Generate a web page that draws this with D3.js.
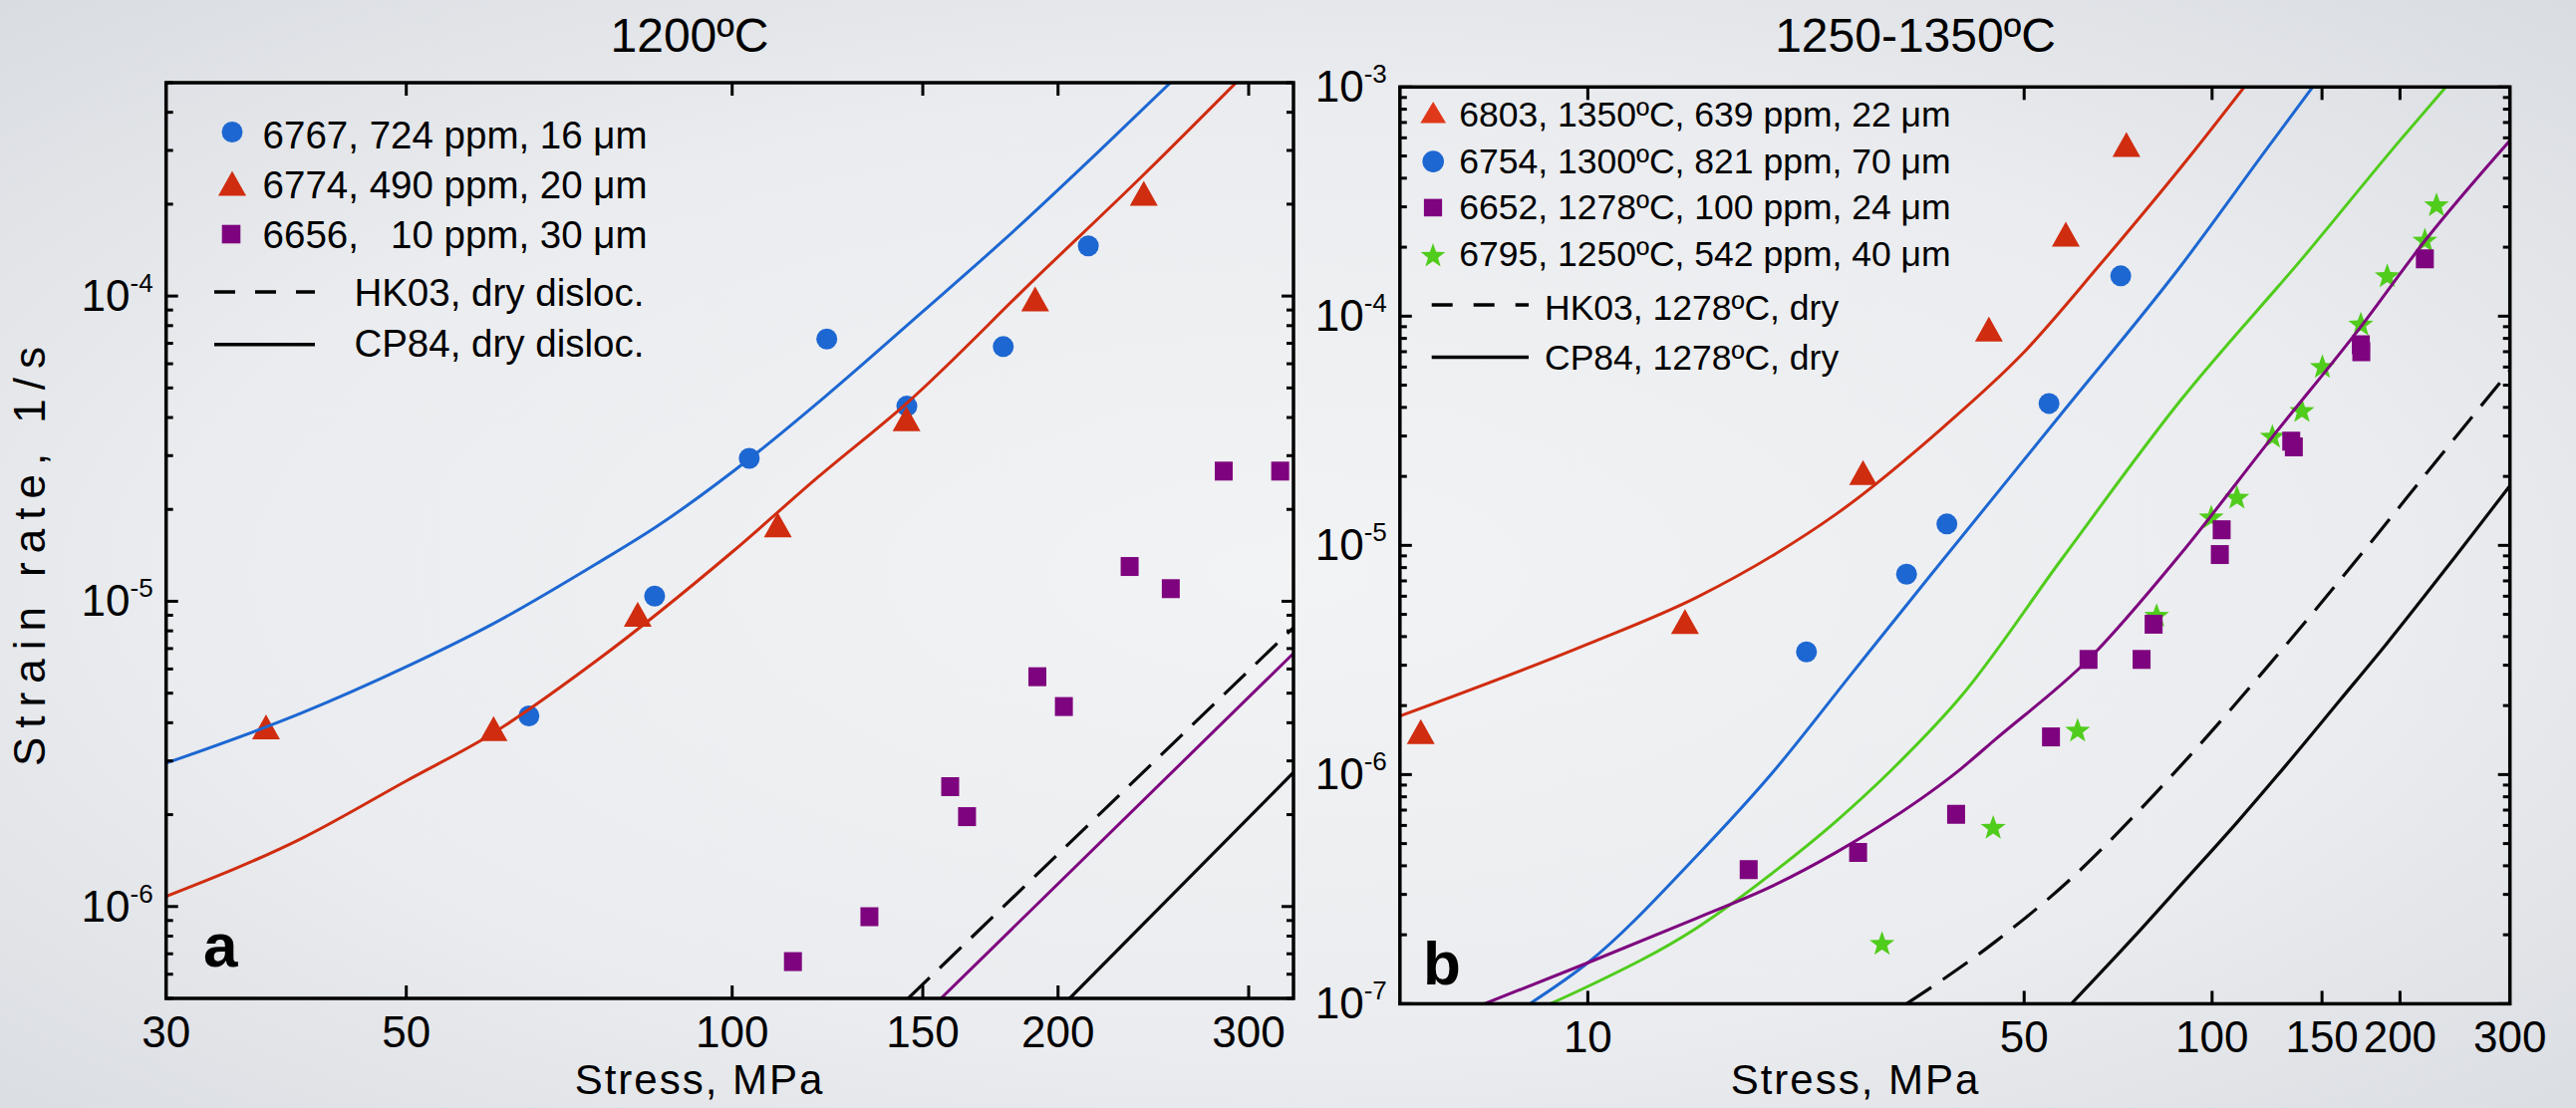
<!DOCTYPE html>
<html>
<head>
<meta charset="utf-8">
<script src="https://cdn.jsdelivr.net/npm/d3@7"></script>
<style>
  html, body { margin: 0; padding: 0; }
  body { width: 2585px; height: 1112px; overflow: hidden; }
  svg { display: block; font-family: "Liberation Sans", Arial, Helvetica, sans-serif; }
  text { white-space: pre; }
</style>
</head>
<body>
<svg id="fig" width="2585" height="1112"></svg>
<script>
// ---------------- Panel a: 1200ºC ----------------
// measured points, [stress MPa, strain rate 1/s]
const a6767 = [[64.9, 4.21e-6], [84.8, 1.04e-5], [103.7, 2.94e-5], [122.3, 7.23e-5], [145.0, 4.36e-5], [178.0, 6.83e-5], [213.3, 1.46e-4]];
const a6774 = [[37.1, 3.88e-6], [60.2, 3.83e-6], [81.8, 9.06e-6], [110.2, 1.78e-5], [144.9, 3.96e-5], [190.5, 9.78e-5], [240.0, 2.17e-4]];
const a6656 = [[113.8, 6.60e-7], [133.9, 9.26e-7], [159.0, 2.47e-6], [164.8, 1.97e-6], [191.4, 5.66e-6], [202.5, 4.52e-6], [232.9, 1.30e-5], [254.2, 1.10e-5], [284.5, 2.67e-5], [320.8, 2.67e-5]];
// flow-law curves
const aFit6767 = [[30, 2.95e-6], [40, 4.3e-6], [50, 6.1e-6], [60, 8.4e-6], [75, 1.33e-5], [85, 1.75e-5], [104, 2.95e-5], [122, 4.7e-5], [150, 8.9e-5], [178, 1.52e-4], [219, 3.02e-4], [254, 5e-4]];
const aFit6774 = [[30, 1.08e-6], [40, 1.67e-6], [50, 2.58e-6], [60, 3.68e-6], [75, 6.4e-6], [100, 1.45e-5], [120, 2.55e-5], [145, 4.46e-5], [190, 1.13e-4], [240, 2.5e-4], [292, 5e-4]];
const aFit6656 = [[155.9, 5e-7], [330, 6.75e-6]];
const aHK03 = [[145.4, 5e-7], [330, 8.2e-6]];
const aCP84 = [[205, 5e-7], [330, 2.75e-6]];

// ---------------- Panel b: 1250-1350ºC ----------------
const b6803 = [[5.40, 1.54e-6], [14.31, 4.65e-6], [27.6, 2.08e-5], [43.9, 8.79e-5], [58.3, 2.28e-4], [72.9, 5.61e-4]];
const b6754 = [[22.4, 3.43e-6], [32.4, 7.49e-6], [37.6, 1.24e-5], [54.8, 4.16e-5], [71.4, 1.50e-4]];
const b6652 = [[18.1, 3.85e-7], [27.1, 4.58e-7], [38.9, 6.71e-7], [55.2, 1.46e-6], [63.4, 3.18e-6], [77.1, 3.18e-6], [80.6, 4.53e-6], [102.9, 9.12e-6], [103.6, 1.17e-5], [133.9, 2.85e-5], [135.2, 2.69e-5], [173.1, 7.5e-5], [173.4, 7.0e-5], [219.2, 1.78e-4]];
const b6795 = [[29.6, 1.82e-7], [44.6, 5.84e-7], [60.9, 1.55e-6], [81.5, 4.91e-6], [99.7, 1.32e-5], [109.6, 1.61e-5], [124.9, 2.97e-5], [139.3, 3.84e-5], [150.2, 5.98e-5], [173.1, 9.17e-5], [190.8, 1.49e-4], [219.2, 2.13e-4], [228.8, 3.04e-4]];
const bFit6803 = [[5, 1.8e-6], [10, 3.71e-6], [14.93, 5.93e-6], [19.88, 9.11e-6], [25, 1.37e-5], [37.2, 3.3e-5], [49.6, 6.82e-5], [66.4, 1.7e-4], [94, 5.34e-4], [112.6, 1e-3]];
const bFit6754 = [[8.07, 1e-7], [10, 1.51e-7], [14.93, 4.41e-7], [19.88, 1.04e-6], [26.5, 2.77e-6], [35.3, 7.34e-6], [57.4, 3.76e-5], [88.7, 1.63e-4], [122.2, 5.34e-4], [144.9, 1e-3]];
const bFit6795 = [[8.71, 1e-7], [10, 1.19e-7], [14.93, 2.14e-7], [19.88, 3.77e-7], [25, 6.27e-7], [30.57, 1.04e-6], [39.6, 2.19e-6], [57.4, 8.7e-6], [88.7, 4.24e-5], [141, 1.85e-4], [200, 5.85e-4], [236.9, 1e-3]];
const bFit6652 = [[6.83, 1e-7], [10, 1.51e-7], [14.93, 2.36e-7], [19.88, 3.29e-7], [25, 4.58e-7], [30.57, 6.39e-7], [39.6, 1.06e-6], [44.9, 1.42e-6], [63.4, 3.18e-6], [88.7, 9.05e-6], [124.9, 2.97e-5], [173.1, 9.0e-5], [219.2, 2.13e-4], [300, 5.84e-4]];
const bHK03 = [[32.4, 1e-7], [45, 1.87e-7], [60, 3.6e-7], [75, 6.6e-7], [91.4, 1.18e-6], [124, 3.06e-6], [183.6, 1.11e-5], [221.6, 2.1e-5], [300, 5.8e-5]];
const bCP84 = [[59.5, 1e-7], [75, 1.96e-7], [90, 3.4e-7], [110, 6.25e-7], [131.4, 1.1e-6], [160, 2.1e-6], [190, 3.7e-6], [245, 8.9e-6], [300, 1.82e-5]];

// axis ticks and labels
const aXTicks = [50, 100, 150, 200, 300];
const aXLabels = [30, 50, 100, 150, 200, 300];
const aYExp = [-4, -5, -6];
const bXTicks = [10, 50, 100, 150, 200];
const bXLabels = [10, 50, 100, 150, 200, 300];
const bYExp = [-3, -4, -5, -6, -7];

const aLegendText = ["6767, 724 ppm, 16 μm", "6774, 490 ppm, 20 μm", "6656,   10 ppm, 30 μm", "HK03, dry disloc.", "CP84, dry disloc."];
const bLegendText = ["6803, 1350ºC, 639 ppm, 22 μm", "6754, 1300ºC, 821 ppm, 70 μm", "6652, 1278ºC, 100 ppm, 24 μm", "6795, 1250ºC, 542 ppm, 40 μm", "HK03, 1278ºC, dry", "CP84, 1278ºC, dry"];

const COL = { blue: "#1d67d2", red: "#d02c0f", purple: "#7e037e", green: "#50cc1c", black: "#0a0a0a" };

// ---------------- drawing ----------------
const W = 2585, H = 1112;
const svg = d3.select("#fig");
const defs = svg.append("defs");
const bg = defs.append("radialGradient").attr("id", "bg").attr("cx", "50%").attr("cy", "52%").attr("r", "72%");
bg.append("stop").attr("offset", "0%").attr("stop-color", "#f2f3f5");
bg.append("stop").attr("offset", "60%").attr("stop-color", "#eaecef");
bg.append("stop").attr("offset", "100%").attr("stop-color", "#d9dce1");
svg.append("rect").attr("width", W).attr("height", H).attr("fill", "url(#bg)");

function starPath(R, r) {
  const pts = [];
  for (let i = 0; i < 10; i++) {
    const ang = -Math.PI / 2 + i * Math.PI / 5;
    const rad = i % 2 === 0 ? R : r;
    pts.push([rad * Math.cos(ang), rad * Math.sin(ang)]);
  }
  return "M" + pts.map(p => p[0].toFixed(2) + "," + p[1].toFixed(2)).join("L") + "Z";
}
const shapes = {
  circle: s => `M${-s},0A${s},${s} 0 1,0 ${s},0A${s},${s} 0 1,0 ${-s},0Z`,
  tri: (w, h) => `M0,${-h / 2}L${w / 2},${h / 2}L${-w / 2},${h / 2}Z`,
  sq: (w, h) => `M${-w / 2},${-h / 2}h${w}v${h}h${-w}Z`,
  star: (R, r) => starPath(R, r)
};
const markerPath = {
  circle: shapes.circle(10.5),
  tri: shapes.tri(28, 25),
  sq: shapes.sq(18, 19),
  star: shapes.star(13.2, 5.4)
};

function panel(cfg) {
  const x = d3.scaleLog().domain(cfg.xDomain).range([cfg.left, cfg.right]);
  const y = d3.scaleLog().domain(cfg.yDomain).range([cfg.bottom, cfg.top]);
  const g = svg.append("g");
  const clipId = "clip-" + cfg.id;
  defs.append("clipPath").attr("id", clipId).append("rect")
    .attr("x", cfg.left).attr("y", cfg.top)
    .attr("width", cfg.right - cfg.left).attr("height", cfg.bottom - cfg.top);
  const plot = g.append("g").attr("clip-path", `url(#${clipId})`);

  // markers
  cfg.points.forEach(s => {
    plot.append("g").selectAll("path").data(s.data).join("path")
      .attr("d", markerPath[s.shape])
      .attr("transform", d => `translate(${x(d[0])},${y(d[1])})`)
      .attr("fill", s.color);
  });

  // lines
  const line = d3.line().x(d => x(d[0])).y(d => y(d[1])).curve(d3.curveMonotoneX);
  cfg.lines.forEach(l => {
    plot.append("path").datum(l.data).attr("d", line)
      .attr("fill", "none").attr("stroke", l.color)
      .attr("stroke-width", l.width || 3)
      .attr("stroke-dasharray", l.dash || null)
      .attr("stroke-linecap", "butt");
  });

  // ticks (inward on all sides)
  const tk = g.append("g").attr("stroke", "#000").attr("stroke-width", 3);
  cfg.xTicks.forEach(v => {
    tk.append("line").attr("x1", x(v)).attr("x2", x(v)).attr("y1", cfg.bottom).attr("y2", cfg.bottom - 13);
    tk.append("line").attr("x1", x(v)).attr("x2", x(v)).attr("y1", cfg.top).attr("y2", cfg.top + 13);
  });
  const [y0, y1] = cfg.yDomain;
  const e0 = Math.floor(Math.log10(y0)), e1 = Math.ceil(Math.log10(y1));
  for (let e = e0; e <= e1; e++) {
    for (let m = 1; m <= 9; m++) {
      const v = m * Math.pow(10, e);
      if (v < y0 * 0.999 || v > y1 * 1.001) continue;
      const len = m === 1 ? 12 : 7;
      tk.append("line").attr("x1", cfg.left).attr("x2", cfg.left + len).attr("y1", y(v)).attr("y2", y(v));
      tk.append("line").attr("x1", cfg.right).attr("x2", cfg.right - len).attr("y1", y(v)).attr("y2", y(v));
    }
  }

  // frame
  g.append("rect").attr("x", cfg.left).attr("y", cfg.top)
    .attr("width", cfg.right - cfg.left).attr("height", cfg.bottom - cfg.top)
    .attr("fill", "none").attr("stroke", "#000").attr("stroke-width", 3.5);

  // x tick labels
  g.append("g").selectAll("text").data(cfg.xLabels).join("text")
    .attr("x", d => x(d)).attr("y", cfg.bottom + 49)
    .attr("text-anchor", "middle").attr("font-size", 44).attr("fill", "#000")
    .text(d => d);

  // y tick labels: 10 with superscript exponent
  cfg.yExp.forEach(e => {
    const t = g.append("text").attr("x", cfg.left - 13).attr("y", y(Math.pow(10, e)) + 15)
      .attr("text-anchor", "end").attr("fill", "#000");
    t.append("tspan").attr("font-size", 44).text("10");
    t.append("tspan").attr("font-size", 26).attr("dy", -19).text(String(e));
  });

  // axis title and panel title
  g.append("text").attr("x", cfg.xTitleX).attr("y", 1098).attr("text-anchor", "middle")
    .attr("font-size", 42).attr("letter-spacing", 2).text("Stress, MPa");
  g.append("text").attr("x", cfg.titleX).attr("y", 52).attr("text-anchor", "middle")
    .attr("font-size", 48).text(cfg.title);

  // panel letter
  g.append("text").attr("x", cfg.letterX).attr("y", cfg.letterY)
    .attr("font-size", 62).attr("font-weight", "bold").text(cfg.letter);

  // legend
  const lg = g.append("g");
  cfg.legend.forEach(it => {
    if (it.shape) {
      lg.append("path").attr("d", it.path || markerPath[it.shape])
        .attr("transform", `translate(${it.mx},${it.my})`).attr("fill", it.color);
    } else {
      lg.append("line").attr("x1", it.x1).attr("x2", it.x2).attr("y1", it.ly).attr("y2", it.ly)
        .attr("stroke", "#000").attr("stroke-width", 3.5).attr("stroke-dasharray", it.dash || null);
    }
    lg.append("text").attr("x", it.tx).attr("y", it.ty).attr("font-size", cfg.legendSize).text(it.text);
  });
  return { x, y };
}

panel({
  id: "a", left: 166.7, right: 1298, top: 83, bottom: 1002,
  xDomain: [30, 330], yDomain: [5e-7, 5e-4],
  xTicks: aXTicks, xLabels: aXLabels, yExp: aYExp,
  title: "1200ºC", titleX: 692, xTitleX: 702,
  letter: "a", letterX: 204, letterY: 970,
  points: [
    { data: a6767, shape: "circle", color: COL.blue },
    { data: a6774, shape: "tri", color: COL.red },
    { data: a6656, shape: "sq", color: COL.purple }
  ],
  lines: [
    { data: aFit6767, color: COL.blue, width: 3 },
    { data: aFit6774, color: COL.red, width: 3 },
    { data: aFit6656, color: COL.purple, width: 3 },
    { data: aHK03, color: COL.black, width: 3.2, dash: "30,14" },
    { data: aCP84, color: COL.black, width: 3.2 }
  ],
  legendSize: 38.5,
  legend: [
    { shape: "circle", color: COL.blue, mx: 233, my: 132.5, tx: 263.6, ty: 148.6, text: aLegendText[0] },
    { shape: "tri", color: COL.red, mx: 233, my: 184, tx: 263.6, ty: 198.6, text: aLegendText[1] },
    { shape: "sq", path: shapes.sq(18.6, 18.6), color: COL.purple, mx: 232, my: 235, tx: 263.6, ty: 248.6, text: aLegendText[2] },
    { x1: 215, x2: 316, ly: 293, dash: "21,20", tx: 355.4, ty: 306.8, text: aLegendText[3] },
    { x1: 215, x2: 316, ly: 345.7, tx: 355.4, ty: 357.5, text: aLegendText[4] }
  ]
});

panel({
  id: "b", left: 1404.8, right: 2518.7, top: 87.3, bottom: 1007.4,
  xDomain: [5, 300], yDomain: [1e-7, 1e-3],
  xTicks: bXTicks, xLabels: bXLabels, yExp: bYExp,
  title: "1250-1350ºC", titleX: 1922, xTitleX: 1862,
  letter: "b", letterX: 1428, letterY: 988,
  points: [
    { data: b6795, shape: "star", color: COL.green },
    { data: b6652, shape: "sq", color: COL.purple },
    { data: b6754, shape: "circle", color: COL.blue },
    { data: b6803, shape: "tri", color: COL.red }
  ],
  lines: [
    { data: bFit6803, color: COL.red, width: 3 },
    { data: bFit6754, color: COL.blue, width: 3 },
    { data: bFit6795, color: COL.green, width: 3 },
    { data: bFit6652, color: COL.purple, width: 3 },
    { data: bHK03, color: COL.black, width: 3.2, dash: "30,14" },
    { data: bCP84, color: COL.black, width: 3.2 }
  ],
  legendSize: 35.5,
  legend: [
    { shape: "tri", path: shapes.tri(25.7, 21.5), color: "#e0381a", mx: 1438.2, my: 112.7, tx: 1464.3, ty: 126.5, text: bLegendText[0] },
    { shape: "circle", path: shapes.circle(10.8), color: COL.blue, mx: 1438.2, my: 162.1, tx: 1464.3, ty: 174, text: bLegendText[1] },
    { shape: "sq", path: shapes.sq(18.2, 17.6), color: COL.purple, mx: 1438, my: 208.4, tx: 1464.3, ty: 220.3, text: bLegendText[2] },
    { shape: "star", path: shapes.star(13, 5.3), color: COL.green, mx: 1438, my: 257, tx: 1464.3, ty: 266.9, text: bLegendText[3] },
    { x1: 1436.7, x2: 1534, ly: 306, dash: "21,21", tx: 1550, ty: 321, text: bLegendText[4] },
    { x1: 1436.7, x2: 1534, ly: 358.6, tx: 1550, ty: 371.3, text: bLegendText[5] }
  ]
});

// shared y-axis title
svg.append("text")
  .attr("transform", "translate(45,554) rotate(-90)")
  .attr("text-anchor", "middle").attr("font-size", 44).attr("letter-spacing", 9)
  .text("Strain rate, 1/s");
</script>
</body>
</html>
